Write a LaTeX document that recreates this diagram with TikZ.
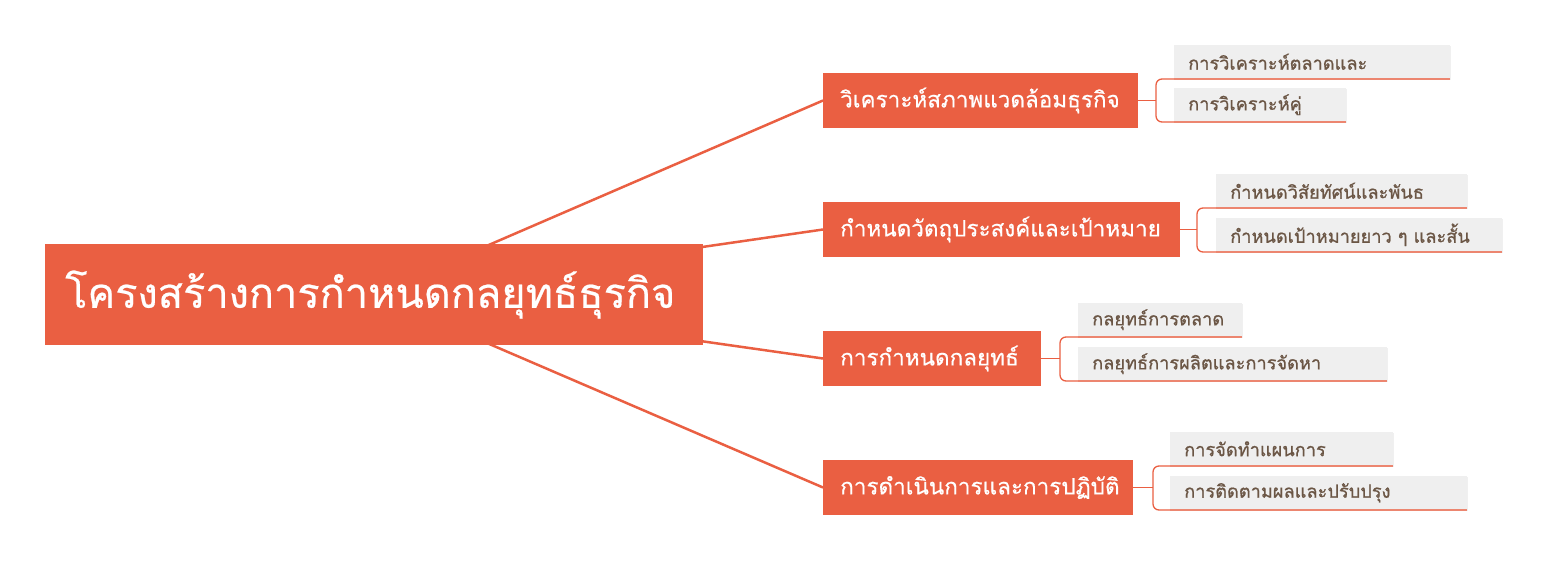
\documentclass[tikz,border=0pt]{standalone}
\usepackage{fontspec}
\newfontfamily\thaifont[Script=Thai, FakeBold=0.5]{Loma}
\newfontfamily\thaileaf[Script=Thai, FakeBold=0.9]{Loma}
\usetikzlibrary{shadows,backgrounds}
\definecolor{mainor}{HTML}{EA5F42}
\definecolor{leafbg}{HTML}{EFEFEF}
\definecolor{leaftxt}{HTML}{6B5645}
\definecolor{leafln}{HTML}{EC8670}
\tikzset{
  rootbox/.style={fill=mainor, text=white, font=\thaifont\fontsize{41.5}{46}\selectfont,
    inner xsep=20pt, inner ysep=0pt, minimum height=101pt, align=left, anchor=west},
  branchbox/.style={fill=mainor, text=white, font=\thaifont\fontsize{22.5}{26}\selectfont,
    inner xsep=17pt, inner ysep=0pt, minimum height=55pt, align=left, anchor=west},
  leafbox/.style={fill=leafbg, text=leaftxt, font=\thaileaf\fontsize{18.2}{21}\selectfont,
    inner xsep=14pt, inner ysep=0pt, minimum height=34pt, align=left, anchor=south west,
    drop shadow={shadow xshift=1.2pt, shadow yshift=-1.2pt, opacity=0.12}},
  link/.style={draw=mainor, line width=2.5pt},
  bracket/.style={draw=mainor, line width=1.3pt, rounded corners=6pt},
  underline/.style={draw=leafln, line width=1.3pt}
}
\begin{document}
\begin{tikzpicture}[x=1pt, y=-1pt]
\useasboundingbox (0,0) rectangle (1547,576);
% root
\node[rootbox, text width=618pt] (root) at (45,294.5) {โครงสร้างการกำหนดกลยุทธ์ธุรกิจ};
% branches
\node[branchbox, text width=281pt] (b1) at (823,100.5) {วิเคราะห์สภาพแวดล้อมธุรกิจ};
\node[branchbox, text width=323pt] (b2) at (823,229.5) {กำหนดวัตถุประสงค์และเป้าหมาย};
\node[branchbox, text width=184pt] (b3) at (823,358.5) {การกำหนดกลยุทธ์};
\node[branchbox, text width=276pt] (b4) at (823,487.5) {การดำเนินการและการปฏิบัติ};
% leaves
\node[leafbox, text width=248pt] (l11) at (1174,79) {การวิเคราะห์ตลาดและ};
\node[leafbox, text width=144pt] (l12) at (1174,122) {การวิเคราะห์คู่};
\node[leafbox, text width=223pt] (l21) at (1216,208) {กำหนดวิสัยทัศน์และพันธ};
\node[leafbox, text width=258pt] (l22) at (1216,252) {กำหนดเป้าหมายยาว ๆ และสั้น};
\node[leafbox, text width=136pt] (l31) at (1078,337) {กลยุทธ์การตลาด};
\node[leafbox, text width=281pt] (l32) at (1078,381) {กลยุทธ์การผลิตและการจัดหา};
\node[leafbox, text width=195pt] (l41) at (1170,466) {การจัดทำแผนการ};
\node[leafbox, text width=269pt] (l42) at (1170,510) {การติดตามผลและปรับปรุง};
% junction points
\coordinate (k1) at (1156,100.5);
\coordinate (k2) at (1197,229.5);
\coordinate (k3) at (1060,358.5);
\coordinate (k4) at (1153,487.5);
% main links
\begin{scope}[on background layer]
\draw[link] (root.center) -- (b1.west);
\draw[link] (root.center) -- (b2.west);
\draw[link] (root.center) -- (b3.west);
\draw[link] (root.center) -- (b4.west);
\end{scope}
% brackets
\foreach \b/\k/\p/\q in {b1/k1/l11/l12, b2/k2/l21/l22, b3/k3/l31/l32, b4/k4/l41/l42}{
  \draw[bracket] (\b.east) -- (\k);
  \draw[bracket] (\p.south west) -- (\p.south west -| \k) -- (\q.south west -| \k) -- (\q.south west);
  \draw[underline] (\p.south west) -- (\p.south east);
  \draw[underline] (\q.south west) -- (\q.south east);
}
\end{tikzpicture}
\end{document}
